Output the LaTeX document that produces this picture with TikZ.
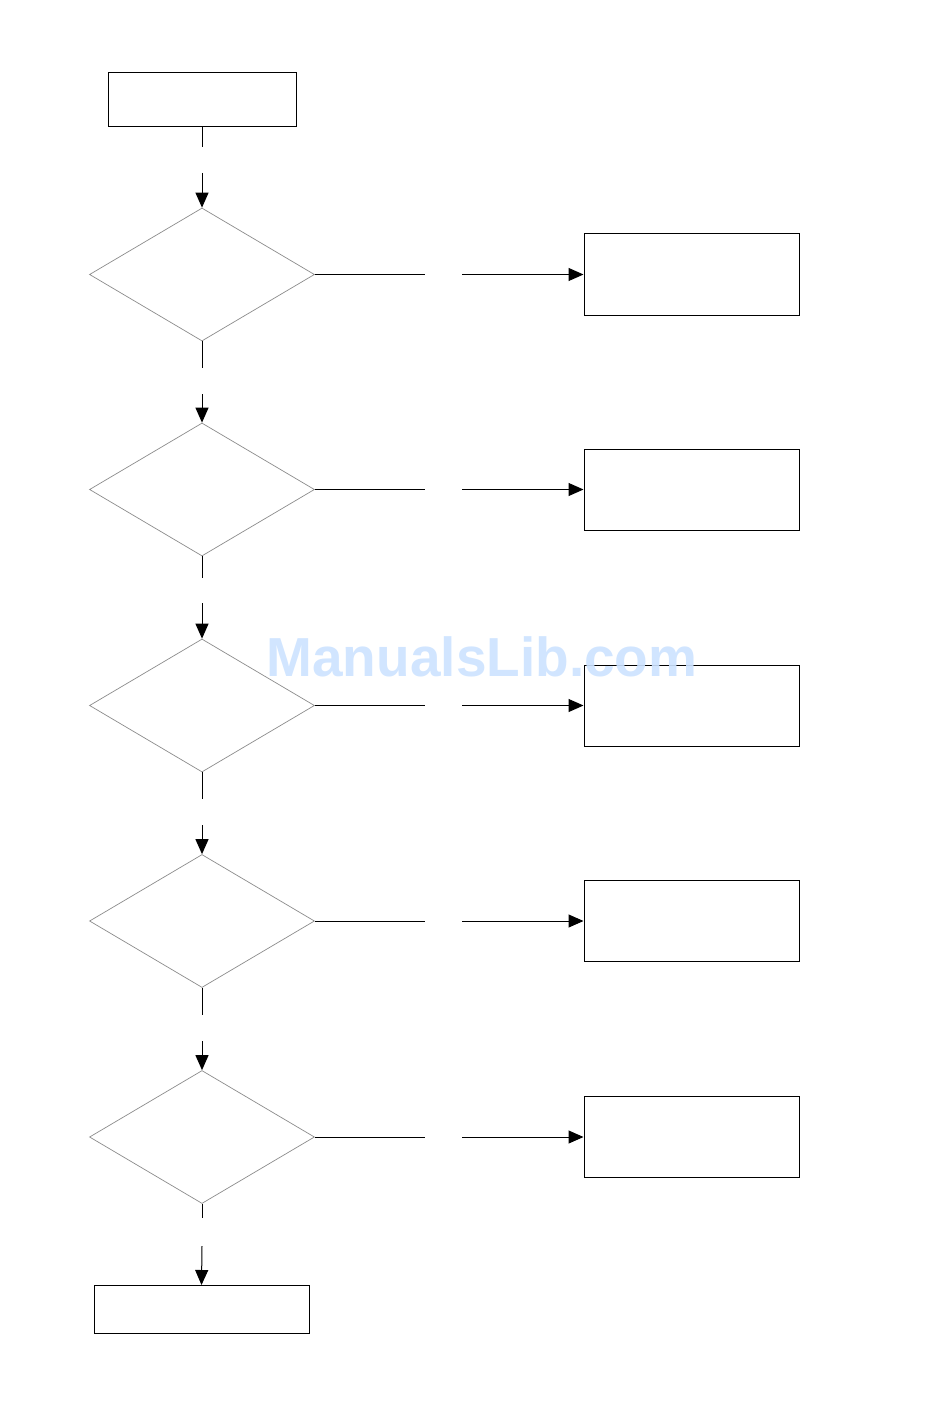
\documentclass[tikz,border=0pt]{standalone}
\usepackage{fontspec}
\setmainfont{Liberation Sans}
\usetikzlibrary{shapes.geometric,arrows.meta}
\begin{document}
\begin{tikzpicture}[x=1pt,y=-1pt,
  box/.style={draw=black,line width=1pt,rectangle,inner sep=0pt},
  dec/.style={draw=black!45,line width=0.7pt,diamond,inner sep=0pt,minimum width=225pt,minimum height=133pt},
  conn/.style={draw=black,line width=1pt},
  arr/.style={conn,-{Triangle[length=15pt,width=13pt]}}]
\useasboundingbox (0,0) rectangle (950,1420);
\fill[white] (0,0) rectangle (950,1420);
\node[box,minimum width=188pt,minimum height=54pt] (start) at (202,99.5) {};
\foreach \i/\y in {1/274.5,2/489.5,3/705.5,4/921,5/1137}{
  \node[dec] (d\i) at (202,\y) {};
  \node[box,minimum width=215pt,minimum height=81pt] (r\i) at (691.5,\y) {};
  \coordinate (ha\i) at (425,\y);
  \coordinate (hb\i) at (462,\y);
  \draw[conn] (d\i.east) -- (ha\i);
  \draw[arr] (hb\i) -- (r\i.west);
}
\node[box,minimum width=215pt,minimum height=48pt] (end) at (201.5,1309.5) {};
% vertical connectors with gaps
\coordinate (va1) at (202,147); \coordinate (vb1) at (202,173);
\coordinate (va2) at (202,368); \coordinate (vb2) at (202,394);
\coordinate (va3) at (202,578); \coordinate (vb3) at (202,603);
\coordinate (va4) at (202,799); \coordinate (vb4) at (202,825);
\coordinate (va5) at (202,1015); \coordinate (vb5) at (202,1041);
\coordinate (va6) at (202,1218); \coordinate (vb6) at (202,1246);
\draw[conn] (start.south) -- (va1);
\draw[arr] (vb1) -- (d1.north);
\draw[conn] (d1.south) -- (va2);
\draw[arr] (vb2) -- (d2.north);
\draw[conn] (d2.south) -- (va3);
\draw[arr] (vb3) -- (d3.north);
\draw[conn] (d3.south) -- (va4);
\draw[arr] (vb4) -- (d4.north);
\draw[conn] (d4.south) -- (va5);
\draw[arr] (vb5) -- (d5.north);
\draw[conn] (d5.south) -- (va6);
\draw[arr] (vb6) -- (end.north);
\node[text=blue!55!cyan!20!white,font=\bfseries\fontsize{55}{55}\selectfont,opacity=0.9,inner sep=0pt] (wm) at (482,657) {ManualsLib.com};
\end{tikzpicture}
\end{document}
